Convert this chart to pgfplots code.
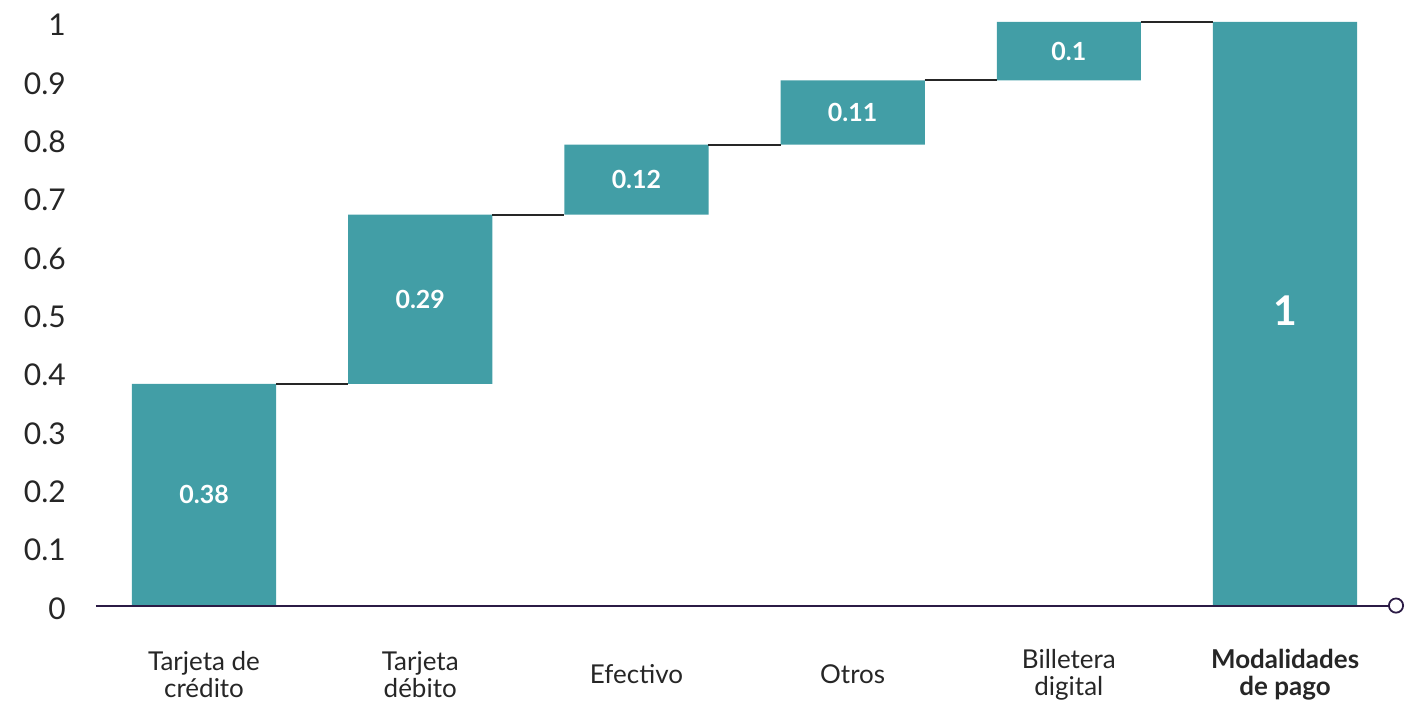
\documentclass[border=0pt]{standalone}
\usepackage{pgfplots}
\pgfplotsset{compat=1.18}
\usepackage{pgfplotstable}
\usepackage{fontspec}
\setmainfont{Lato}
\usetikzlibrary{arrows.meta}
\definecolor{teal1}{HTML}{429EA6}
\definecolor{axispurple}{HTML}{2B1B45}
\definecolor{txt}{HTML}{262626}

\pgfplotstableread{
x base val
0 0.00 0.38
1 0.38 0.29
2 0.67 0.12
3 0.79 0.11
4 0.90 0.10
5 0.00 1.00
}\wfdata

\begin{document}
\begin{tikzpicture}
\pgfplotsset{
  common/.style={
    scale only axis, width=1309pt, height=584pt,
    xmin=-0.5, xmax=5.55, ymin=0, ymax=1,
    clip=false,
  }
}
% bars
\begin{axis}[common, hide axis, ybar stacked, bar width=0.667]
  \addplot[draw=none, fill=none] table[x=x, y=base] {\wfdata};
  \addplot[draw=none, fill=teal1] table[x=x, y=val] {\wfdata};
\end{axis}
% axis, connectors, labels
\begin{axis}[common,
  axis x line=bottom, axis y line*=left,
  y axis line style={draw=none},
  x axis line style={draw=axispurple, line width=2pt, -{Circle[open, length=16pt, line width=1.8pt]}},
  major tick length=0pt,
  xtick={0,1,2,3,4,5},
  xticklabels={{Tarjeta de\\crédito},{Tarjeta\\débito},Efectivo,Otros,{Billetera\\digital},{\textbf{Modalidades}\\\textbf{de pago}}},
  xticklabel style={align=center, anchor=center, yshift=-69pt, text=txt, font=\fontsize{26}{27}\selectfont},
  ytick={0,0.1,0.2,0.3,0.4,0.5,0.6,0.7,0.8,0.9,1},
  yticklabels={0,0.1,0.2,0.3,0.4,0.5,0.6,0.7,0.8,0.9,1},
  yticklabel style={anchor=east, inner sep=0pt, xshift=-30pt, yshift=-3pt, text=txt, font=\fontsize{30}{32}\selectfont},
  /pgf/number format/assume math mode=true,
  unbounded coords=jump,
]
  \coordinate (o) at (axis cs:-0.5,0);
  \addplot[color=txt, line width=2pt] coordinates {
    (0.333,0.38) (0.667,0.38) (1,nan)
    (1.333,0.67) (1.667,0.67) (2,nan)
    (2.333,0.79) (2.667,0.79) (3,nan)
    (3.333,0.90) (3.667,0.90) (4,nan)
    (4.333,1.00) (4.667,1.00)
  };
  \addplot[only marks, mark=none, nodes near coords, point meta=explicit symbolic,
    nodes near coords style={anchor=center, text=white, font=\bfseries\fontsize{25}{27}\selectfont}]
    coordinates {
    (0,0.19) [0.38]
    (1,0.525) [0.29]
    (2,0.73) [0.12]
    (3,0.845) [0.11]
    (4,0.95) [0.1]
  };
  \addplot[only marks, mark=none, nodes near coords, point meta=explicit symbolic,
    nodes near coords style={anchor=center, text=white, font=\bfseries\fontsize{41}{44}\selectfont}]
    coordinates {(5,0.505) [1]};
\end{axis}
\path ([shift={(-96pt,-98pt)}]o) rectangle ([shift={(1309pt,606pt)}]o);
\end{tikzpicture}
\end{document}
